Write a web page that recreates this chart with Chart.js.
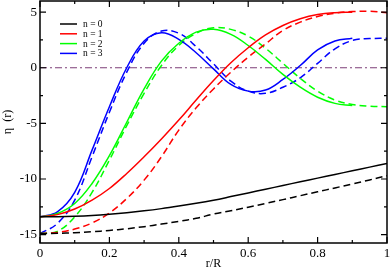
<!DOCTYPE html>
<html>
<head>
<meta charset="utf-8">
<script src="https://cdn.jsdelivr.net/npm/chart.js@4"></script>
<style>
  html, body { margin: 0; padding: 0; background: #fff; }
  #wrap { width: 390px; height: 272px; }
</style>
</head>
<body>
<div id="wrap"><canvas id="chart" width="390" height="272"></canvas></div>
<script>
// r/R sample points
const rValues = [0, 0.05, 0.1, 0.15, 0.2, 0.25, 0.3, 0.35, 0.4, 0.45, 0.5,
  0.55, 0.6, 0.65, 0.7, 0.75, 0.8, 0.85, 0.9, 0.95, 1.0];

// solid curves (n=1..3 stop at r/R = 0.9)
const n0Solid = [-13.4, -13.39, -13.35, -13.28, -13.17, -13.03, -12.86, -12.66, -12.43, -12.18, -11.9,
  -11.58, -11.25, -10.92, -10.58, -10.25, -9.92, -9.59, -9.26, -8.93, -8.6];
const n1Solid = [-13.4, -13.2, -12.7, -11.9, -10.85, -9.5, -8.0, -6.4, -4.7, -2.9, -1.15,
  0.45, 1.8, 2.95, 3.8, 4.4, 4.78, 4.95, 5.0];
const n2Solid = [-13.4, -13.1, -12.2, -10.4, -7.9, -4.9, -1.9, 0.6, 2.2, 3.2, 3.45,
  3.0, 2.0, 0.75, -0.6, -1.75, -2.65, -3.2, -3.4];
const n3Solid = [-13.4, -12.95, -11.2, -7.4, -3.5, 0, 2.4, 3.15, 2.55, 1.35, -0.1,
  -1.5, -2.1, -2.0, -1.05, 0.2, 1.6, 2.4, 2.65];

// dashed curves
const n0Dashed = [-14.9, -14.88, -14.83, -14.74, -14.62, -14.47, -14.28, -14.05, -13.8, -13.53, -13.15,
  -12.85, -12.53, -12.2, -11.85, -11.5, -11.15, -10.8, -10.45, -10.08, -9.7];
const n1Dashed = [-14.9, -14.8, -14.5, -13.95, -13.05, -11.75, -10.1, -8.0, -5.6, -3.6, -1.9,
  -0.4, 0.95, 2.15, 3.35, 4.1, 4.6, 4.9, 5.05, 5.08, 4.95];
const n2Dashed = [-14.9, -14.7, -13.4, -11.2, -8.3, -5.2, -2.3, 0.2, 2.0, 3.1, 3.6,
  3.45, 2.85, 1.75, 0.4, -0.95, -2.1, -2.9, -3.3, -3.45, -3.5];
const n3Dashed = [-14.9, -14.0, -11.9, -8.0, -4.0, -0.4, 2.2, 3.3, 3.1, 1.9, 0.35,
  -1.2, -2.1, -2.3, -1.75, -0.9, 0.4, 1.7, 2.45, 2.62, 2.65];

const zeroLine = [0, 0];
const zeroX = [0, 1];

const labels = ['n = 0', 'n = 1', 'n = 2', 'n = 3'];
const colors = ['#000000', '#ff0000', '#00ff00', '#0000ff'];

const xTicks = [0, 0.2, 0.4, 0.6, 0.8, 1];
const xTickLabels = ['0', '0.2', '0.4', '0.6', '0.8', '1'];
const yTicks = [-15, -10, -5, 0, 5];

const toPts = (ys, xs) => ys.map((y, i) => ({ x: (xs || rValues)[i], y: y }));

const serif = 'Liberation Serif, Times New Roman, serif';

const solids = [n0Solid, n1Solid, n2Solid, n3Solid];
const dashes = [n0Dashed, n1Dashed, n2Dashed, n3Dashed];

const datasets = [];
solids.forEach((s, i) => {
  datasets.push({
    label: labels[i],
    data: toPts(s),
    borderColor: colors[i],
    borderWidth: 1.5,
    pointRadius: 0,
    tension: 0.4,
    fill: false
  });
});
dashes.forEach((s, i) => {
  datasets.push({
    label: labels[i] + ' dashed',
    data: toPts(s),
    borderColor: colors[i],
    borderWidth: 1.5,
    borderDash: [7, 4],
    pointRadius: 0,
    tension: 0.4,
    fill: false
  });
});
datasets.push({
  label: 'zero',
  data: toPts(zeroLine, zeroX),
  borderColor: '#7d3f78',
  borderWidth: 1.2,
  borderDash: [7, 3, 2, 3],
  pointRadius: 0,
  fill: false
});

// inward ticks on all four sides, frame, and the in-plot legend
const framePlugin = {
  id: 'frame',
  afterDraw(chart) {
    const ctx = chart.ctx;
    const a = chart.chartArea;
    const xs = chart.scales.x;
    const ys = chart.scales.y;
    ctx.save();
    ctx.strokeStyle = '#000';
    ctx.lineWidth = 1.2;
    for (let k = 0; k <= 10; k++) {
      const v = k / 10;
      const px = xs.getPixelForValue(v);
      const len = k % 2 === 0 ? 6 : 3;
      ctx.beginPath();
      ctx.moveTo(px, a.bottom); ctx.lineTo(px, a.bottom - len);
      ctx.moveTo(px, a.top); ctx.lineTo(px, a.top + len);
      ctx.stroke();
    }
    for (let v = -15; v <= 5; v += 2.5) {
      const py = ys.getPixelForValue(v);
      const len = v % 5 === 0 ? 6 : 3;
      ctx.beginPath();
      ctx.moveTo(a.left, py); ctx.lineTo(a.left + len, py);
      ctx.moveTo(a.right, py); ctx.lineTo(a.right - len, py);
      ctx.stroke();
    }
    ctx.lineWidth = 1.5;
    ctx.strokeRect(a.left, a.top, a.right - a.left, a.bottom - a.top);

    // legend
    ctx.font = '9.5px ' + serif;
    ctx.textBaseline = 'middle';
    ctx.textAlign = 'left';
    for (let i = 0; i < labels.length; i++) {
      const y = 24 + i * 9.8;
      ctx.strokeStyle = colors[i];
      ctx.lineWidth = 1.5;
      ctx.beginPath();
      ctx.moveTo(60, y); ctx.lineTo(77, y);
      ctx.stroke();
      ctx.fillStyle = '#000';
      ctx.fillText(labels[i], 83, y + 0.5);
    }
    ctx.restore();
  }
};

new Chart(document.getElementById('chart'), {
  type: 'line',
  data: { datasets: datasets },
  plugins: [framePlugin],
  options: {
    responsive: false,
    animation: false,
    layout: { padding: { top: 1, right: 3, left: 0, bottom: 0 } },
    plugins: {
      legend: { display: false },
      tooltip: { enabled: false }
    },
    scales: {
      x: {
        type: 'linear',
        min: 0,
        max: 1,
        grid: { display: false, drawTicks: false },
        border: { display: false },
        afterBuildTicks: (s) => { s.ticks = xTicks.map(v => ({ value: v })); },
        afterFit: (s) => { s.height = 29; s.paddingLeft = 0; s.paddingRight = 0; },
        ticks: {
          padding: 3,
          color: '#000',
          font: { family: serif, size: 13 },
          maxRotation: 0,
          callback: (v) => xTickLabels[xTicks.indexOf(v)]
        },
        title: {
          display: true,
          text: 'r/R',
          color: '#000',
          font: { family: serif, size: 12 },
          padding: { top: 0, bottom: 1 }
        }
      },
      y: {
        type: 'linear',
        min: -15.75,
        max: 6,
        grid: { display: false, drawTicks: false },
        border: { display: false },
        afterBuildTicks: (s) => { s.ticks = yTicks.map(v => ({ value: v })); },
        afterFit: (s) => { s.width = 40; s.paddingTop = 0; s.paddingBottom = 0; },
        ticks: {
          padding: 3,
          color: '#000',
          font: { family: serif, size: 13 },
          callback: (v) => String(v)
        },
        title: {
          display: true,
          text: 'η  (r)',
          color: '#000',
          font: { family: serif, size: 12 },
          padding: { top: 1, bottom: 1 }
        }
      }
    }
  }
});
</script>
</body>
</html>
